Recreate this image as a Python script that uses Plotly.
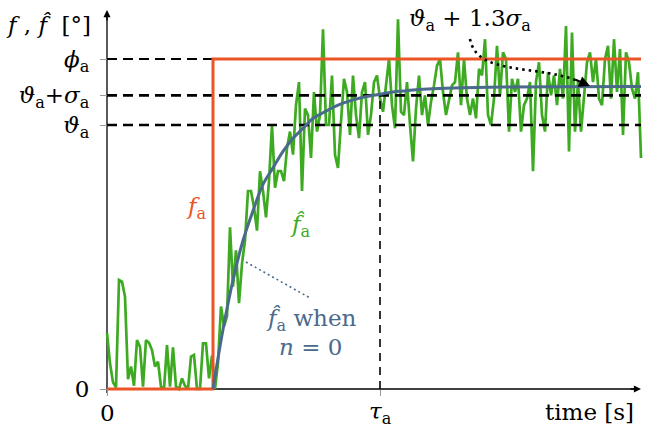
import plotly.graph_objects as go

# ---------------- data ----------------
PHI_A = 1.0          # phi_a level
THETA_A = 0.80       # vartheta_a level
SIGMA_A = 0.09       # sigma_a
STEP_T = 10.6        # time of the step of f_a
TAU_A = 27.3         # tau_a
END_T = 53.4         # end of the signals
DT = 0.3             # sampling step of the noisy estimate

green_vals = [
    0.17, 0.078, 0.02, 0.005, 0.33, 0.325, 0.28, 0.03, 0.068, 0.01,
    0.148, 0.128, 0.007, 0.148, 0.14, 0.118, 0.068, 0.083, 0.007, 0.0,
    0.133, 0.007, 0.126, 0.007, 0.0, 0.032, 0.01, 0.0, 0.098, 0.103,
    0.0, 0.0, 0.138, 0.138, 0.032, 0.101,
    0.0, 0.08, 0.25, 0.19, 0.22, 0.49, 0.31, 0.42, 0.26, 0.38,
    0.45, 0.6, 0.6, 0.55, 0.48, 0.66, 0.6, 0.52, 0.63, 0.8,
    0.61, 0.66,
    0.66, 0.63, 0.73, 0.78, 0.71, 0.86, 0.93, 0.6, 0.85, 0.83,
    0.7, 0.9, 0.78, 0.83, 1.09, 0.8, 0.8, 0.95, 0.71, 0.67,
    0.81, 0.94, 0.9, 0.77, 0.95, 0.83, 0.76, 0.9, 0.93, 0.77,
    0.83, 0.93,
    0.95, 0.88, 0.84, 0.92, 1.0, 0.86, 0.79, 1.12, 0.84, 0.83,
    0.93, 0.8, 0.69, 0.85, 0.95, 0.83, 0.89, 0.8, 0.87, 0.92,
    0.98, 1.0, 0.9, 0.83, 0.88, 0.92, 0.93, 1.02, 0.86, 1.0,
    0.88,
    0.83, 0.88, 0.82, 0.97, 0.95, 1.06, 0.83, 0.8, 0.88, 1.04,
    0.89, 1.02, 1.0, 0.78, 0.94, 0.9, 0.94, 0.78, 0.86, 0.88,
    0.93, 0.66, 0.93, 0.99, 0.83, 0.78, 0.96, 0.89, 0.95, 0.86,
    0.97, 0.88, 1.10, 0.72, 1.08, 0.78, 0.93, 0.78, 0.9, 0.99,
    1.02, 0.93, 1.0, 0.88, 0.86, 1.0, 1.04, 0.88, 1.06, 0.9,
    1.03, 0.77, 1.02, 0.99, 0.91, 0.88, 0.96, 0.70,
]
green_t = [round(i * DT, 3) for i in range(len(green_vals))]

blue_t = [10.6, 11.6, 12.6, 13.6, 14.6, 15.6, 16.6, 17.6, 18.6, 19.6,
          20.6, 21.6, 22.6, 23.6, 24.6, 25.6, 26.6, 27.6, 28.6, 29.6,
          30.6, 32.6, 35.6, 39.6, 45.6, 53.4]
blue_vals = [0.0, 0.18, 0.33, 0.45, 0.54, 0.62, 0.67, 0.72, 0.76, 0.79,
             0.82, 0.837, 0.853, 0.866, 0.876, 0.884, 0.89, 0.895, 0.90, 0.903,
             0.906, 0.91, 0.913, 0.915, 0.916, 0.917]

orange_t = [0, STEP_T, STEP_T, END_T]
orange_vals = [0, 0, PHI_A, PHI_A]

y_tick_vals = [0, THETA_A, THETA_A + SIGMA_A, PHI_A]
y_tick_text = ['0',
               '<i>ϑ</i><sub>a</sub>',
               '<i>ϑ</i><sub>a</sub>+<i>σ</i><sub>a</sub>',
               '<i>ϕ</i><sub>a</sub>']
x_tick_vals = [0, TAU_A]
x_tick_text = ['0', '<i>τ</i><sub>a</sub>']

# ---------------- geometry / style ----------------
W, H = 657, 427
ML, MR, MT, MB = 95, 8, 4, 30
X0_PX, Y0_PX = 107, 389
PX_PER_T, PX_PER_V = 10.0, 330.0
plot_w = W - ML - MR
plot_h = H - MT - MB


def px2t(px):
    return (px - X0_PX) / PX_PER_T


def py2v(py):
    return (Y0_PX - py) / PX_PER_V


def pxp(px):   # pixel -> paper x
    return (px - ML) / plot_w


def pyp(py):   # pixel -> paper y
    return (H - MB - py) / plot_h


ORANGE = '#EB5424'
GREEN = '#3DAA22'
BLUE = '#4A6A8C'
FONT = 'DejaVu Serif'
FS = 23

fig = go.Figure()

fig.add_trace(go.Scatter(x=green_t, y=green_vals, mode='lines',
                         line=dict(color=GREEN, width=2.7), hoverinfo='skip'))
# dashed reference lines
fig.add_trace(go.Scatter(x=[0, STEP_T], y=[PHI_A, PHI_A], mode='lines',
                         line=dict(color='black', width=1.8, dash='10px,6px')))
fig.add_trace(go.Scatter(x=[0, END_T], y=[THETA_A + SIGMA_A] * 2, mode='lines',
                         line=dict(color='black', width=2.8, dash='10px,6px')))
fig.add_trace(go.Scatter(x=[0, END_T], y=[THETA_A] * 2, mode='lines',
                         line=dict(color='black', width=2.6, dash='10px,6px')))
fig.add_trace(go.Scatter(x=[TAU_A, TAU_A], y=[0, THETA_A + SIGMA_A], mode='lines',
                         line=dict(color='black', width=1.6, dash='8px,6px')))
fig.add_trace(go.Scatter(x=orange_t, y=orange_vals, mode='lines',
                         line=dict(color=ORANGE, width=3)))
fig.add_trace(go.Scatter(x=blue_t, y=blue_vals, mode='lines',
                         line=dict(color=BLUE, width=3, shape='spline')))

shapes = [
    # axes (below the data)
    dict(type='line', xref='x', yref='y', x0=0, y0=0, x1=px2t(636), y1=0,
         line=dict(color='black', width=1.3), layer='below'),
    dict(type='line', xref='x', yref='y', x0=0, y0=py2v(393), x1=0, y1=py2v(15),
         line=dict(color='black', width=1.3), layer='below'),
    # blue dotted pointer
    dict(type='line', xref='x', yref='y', x0=px2t(246), y0=py2v(262),
         x1=px2t(310), y1=py2v(298),
         line=dict(color=BLUE, width=1.6, dash='2px,3px')),
    # black dotted curved arrow
    dict(type='path', xref='x', yref='y',
         path=(f'M {px2t(470)},{py2v(39)} C {px2t(477)},{py2v(76)} '
               f'{px2t(535)},{py2v(64)} {px2t(578)},{py2v(81)}'),
         line=dict(color='black', width=2.6, dash='2.5px,4px')),
]


def txt(px, py, text, color='black', xanchor='center'):
    return dict(x=pxp(px), y=pyp(py), xref='paper', yref='paper',
                xanchor=xanchor, yanchor='middle', text=text, showarrow=False,
                font=dict(family=FONT, size=FS, color=color))


annotations = [
    # arrow heads of axes
    dict(x=px2t(641), y=0, xref='x', yref='y', ax=-12, ay=0, text='', showarrow=True,
         arrowhead=2, arrowsize=1.1, arrowwidth=1.3, arrowcolor='black'),
    dict(x=0, y=py2v(10), xref='x', yref='y', ax=0, ay=12, text='', showarrow=True,
         arrowhead=2, arrowsize=1.1, arrowwidth=1.3, arrowcolor='black'),
    # head of the dotted curved arrow
    dict(x=px2t(590), y=py2v(86), xref='x', yref='y', ax=-16, ay=-7, text='',
         showarrow=True, arrowhead=2, arrowsize=1.0, arrowwidth=2.2, arrowcolor='black'),
    # texts
    txt(93, 25, '<i>f</i> , <i>f̂</i>  [°]', xanchor='right'),
    txt(470, 20, '<i>ϑ</i><sub>a</sub> + 1.3<i>σ</i><sub>a</sub>'),
    txt(196, 208, '<i>f</i><sub>a</sub>', ORANGE),
    txt(300, 226, '<i>f̂</i><sub>a</sub>', GREEN),
    txt(311, 320, '<i>f̂</i><sub>a</sub> when', BLUE),
    txt(310, 347, '<i>n</i> = 0', BLUE),
    txt(589, 412, 'time [s]'),
]
# x tick labels (placed at the axis tick values)
for tv, tt in zip(x_tick_vals, x_tick_text):
    annotations.append(dict(x=tv, y=pyp(413), xref='x', yref='paper',
                            xanchor='center', yanchor='middle', text=tt,
                            showarrow=False,
                            font=dict(family=FONT, size=FS, color='black')))

fig.update_layout(
    width=W, height=H,
    margin=dict(l=ML, r=MR, t=MT, b=MB, pad=0),
    paper_bgcolor='white', plot_bgcolor='white',
    showlegend=False,
    font=dict(family=FONT, size=FS, color='black'),
    shapes=shapes,
    annotations=annotations,
    xaxis=dict(range=[px2t(ML), px2t(W - MR)], showgrid=False, zeroline=False,
               showline=False, anchor='free', position=(H - MB - Y0_PX) / plot_h,
               tickmode='array', tickvals=x_tick_vals, ticktext=x_tick_text,
               showticklabels=False,
               ticks='outside', ticklen=6, tickwidth=1, tickcolor='#9a9a9a',
               automargin=False, fixedrange=True),
    yaxis=dict(range=[py2v(H - MB), py2v(MT)], showgrid=False, zeroline=False,
               showline=False, anchor='free', position=(X0_PX - ML) / plot_w,
               tickmode='array', tickvals=y_tick_vals, ticktext=y_tick_text,
               ticks='outside', ticklen=7, tickwidth=1, tickcolor='#9a9a9a',
               ticklabelstandoff=6,
               tickfont=dict(family=FONT, size=FS, color='black'),
               automargin=False, fixedrange=True),
)

fig.write_html('out.html')
